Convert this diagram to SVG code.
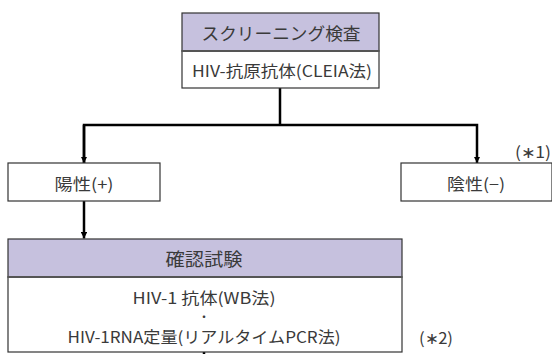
<svg xmlns="http://www.w3.org/2000/svg" width="552" height="354" viewBox="0 0 552 354">
<defs>
<style>
.box{fill:#fff;stroke:#333;stroke-width:1.2}
.hdr{fill:#c6c1de;stroke:#333;stroke-width:1.2}
.sep{stroke:#555;stroke-width:2}
.t{font-family:"Noto Sans CJK JP","Liberation Sans",sans-serif;fill:#3a3a3a;text-anchor:middle;dominant-baseline:central}
.conn{fill:none;stroke:#000;stroke-width:2.5}
</style>
<marker id="ah" viewBox="0 0 10 10" refX="10" refY="5" markerWidth="2.6" markerHeight="2.6" orient="auto" markerUnits="strokeWidth">
<path d="M0,0 L10,5 L0,10 z" fill="#000"/>
</marker>
</defs>
<rect width="552" height="354" fill="#fff"/>
<g id="connectors">
<path class="conn" d="M280,88 V125"/>
<path class="conn" d="M84,163 V125 H477 V163" marker-end="url(#ah)"/>
<path class="conn" d="M84,125 V163" marker-end="url(#ah)"/>
<path class="conn" d="M84,201 V238.5" marker-end="url(#ah)"/>
<path class="conn" d="M204,352 V356" stroke-width="2"/>
</g>
<g id="screening">
<rect class="hdr" x="182" y="13" width="197" height="38"/>
<rect class="box" x="182" y="51" width="197" height="37"/>
<line class="sep" x1="182" y1="51" x2="379" y2="51"/>
<text class="t" x="281" y="32" font-size="17.5" textLength="159" lengthAdjust="spacingAndGlyphs">スクリーニング検査</text>
<text class="t" x="282" y="70" font-size="16" textLength="180" lengthAdjust="spacingAndGlyphs">HIV-抗原抗体(CLEIA法)</text>
</g>
<g id="positive">
<rect class="box" x="8" y="163" width="152" height="38"/>
<text class="t" x="84" y="183" font-size="16" textLength="59" lengthAdjust="spacingAndGlyphs">陽性(+)</text>
</g>
<g id="negative">
<rect class="box" x="401" y="163" width="151" height="38"/>
<text class="t" x="476" y="183" font-size="16" textLength="58" lengthAdjust="spacingAndGlyphs">陰性(−)</text>
</g>
<text class="t" x="533" y="151" font-size="16" textLength="36" lengthAdjust="spacingAndGlyphs">(∗1)</text>
<g id="confirm">
<rect class="hdr" x="8" y="239" width="394" height="38"/>
<rect class="box" x="8" y="277" width="394" height="75"/>
<line class="sep" x1="8" y1="277" x2="402" y2="277"/>
<text class="t" x="204" y="258" font-size="18" textLength="77" lengthAdjust="spacingAndGlyphs">確認試験</text>
<text class="t" x="204" y="297" font-size="16" textLength="143" lengthAdjust="spacingAndGlyphs">HIV-1 抗体(WB法)</text>
<text class="t" x="204" y="316" font-size="12">・</text>
<text class="t" x="204" y="336" font-size="16" textLength="273" lengthAdjust="spacingAndGlyphs">HIV-1RNA定量(リアルタイムPCR法)</text>
</g>
<text class="t" x="436" y="337" font-size="16" textLength="34" lengthAdjust="spacingAndGlyphs">(∗2)</text>
</svg>
